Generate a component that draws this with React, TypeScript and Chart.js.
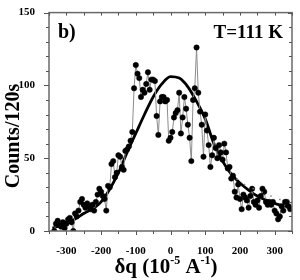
import React, { useEffect, useRef } from "react";
import { Chart, registerables } from "chart.js";

Chart.register(...registerables);

// measured data: momentum transfer (1e-5 A^-1) and counts per 120 s
const dq = [
  -335, -330, -325, -320, -315, -310, -305, -300, -295, -290, -285, -280, -275, -270, -265, -260,
  -255, -250, -245, -240, -235, -230, -225, -220, -215, -210, -205, -200, -195, -190, -185, -180,
  -175, -170, -165, -160, -155, -150, -145, -140, -135, -130, -125, -120, -115, -110, -105, -100,
  -95, -90, -85, -80, -75, -70, -65, -60, -55, -50, -45, -40, -35, -30, -25, -20,
  -15, -10, -5, 0, 5, 10, 15, 20, 25, 30, 35, 40, 45, 50, 55, 60,
  65, 70, 75, 80, 85, 90, 95, 100, 105, 110, 115, 120, 125, 130, 135, 140,
  145, 150, 155, 160, 165, 170, 175, 180, 185, 190, 195, 200, 205, 210, 215, 220,
  225, 230, 235, 240, 245, 250, 255, 260, 265, 270, 275, 280, 285, 290, 295, 300,
  305, 310, 315, 320, 325, 330, 335, 340, 345,
];
const counts = [
  0, 5, 7, 4, 3, 6, 2, 5, 8, 9, 6, 0, 12, 10, 14, 20,
  22, 18, 16, 19, 17, 15, 18, 14, 20, 25, 29, 27, 24, 22, 14, 31,
  30, 46, 48, 37, 40, 52, 51, 44, 42, 55, 56, 58, 62, 68, 98, 114,
  108, 105, 92, 97, 95, 101, 109, 97, 104, 104, 103, 79, 66, 89, 92, 92,
  89, 90, 62, 64, 68, 78, 81, 83, 95, 67, 78, 92, 84, 73, 64, 48,
  90, 98, 126, 95, 82, 73, 51, 80, 69, 59, 44, 52, 64, 57, 50, 59,
  54, 49, 60, 54, 43, 44, 36, 38, 27, 23, 32, 22, 15, 25, 23, 21,
  16, 24, 29, 20, 18, 21, 16, 24, 29, 27, 20, 18, 20, 18, 20, 14,
  12, 8, 10, 17, 14, 20, 20, 17, 15,
];

// fitted curve
const fitDq = [-340, -300, -250, -200, -150, -125, -100, -75, -50, -25, 0, 25, 50, 75, 100, 125, 150, 175, 200, 250, 300, 350];
const fitCounts = [2, 5, 12, 20, 40, 54, 67, 80, 92, 101, 106, 105, 99, 89, 77, 60, 48, 39, 33, 24, 19, 16];

// faint dotted curve on the right
const dotDq = [190, 220, 250, 280, 310, 340];
const dotCounts = [36, 31, 28, 25, 22, 21];

const xTickLabels = [-300, -200, -100, 0, 100, 200, 300];
const yTickLabels = [0, 50, 100, 150];

const SERIF = "'Liberation Serif', 'Times New Roman', serif";

const decorPlugin = {
  id: "decor",
  afterDraw(chart: any) {
    const ctx = chart.ctx;
    const { left, right, top, bottom } = chart.chartArea;
    const xs = chart.scales.x;
    const ys = chart.scales.y;
    ctx.save();
    ctx.strokeStyle = "#6a6a6a";
    ctx.lineWidth = 1.5;
    ctx.strokeRect(left, top, right - left, bottom - top);
    ctx.lineWidth = 1;
    ctx.strokeStyle = "#555";
    ctx.beginPath();
    for (let v = xs.min; v <= xs.max; v += 50) {
      const px = Math.round(xs.getPixelForValue(v)) + 0.5;
      const major = v % 100 === 0;
      ctx.moveTo(px, bottom);
      ctx.lineTo(px, bottom + (major ? 4 : 3));
      ctx.moveTo(px, top);
      ctx.lineTo(px, top + 3);
    }
    for (let v = ys.min; v <= ys.max; v += 10) {
      const py = Math.round(ys.getPixelForValue(v)) + 0.5;
      const major = v % 50 === 0;
      ctx.moveTo(left, py);
      ctx.lineTo(left - (major ? 5 : 3), py);
      ctx.moveTo(right, py);
      ctx.lineTo(right - (major ? 4 : 3), py);
    }
    ctx.stroke();

    ctx.fillStyle = "#000";
    ctx.font = `bold 20px ${SERIF}`;
    ctx.textAlign = "left";
    ctx.textBaseline = "alphabetic";
    ctx.fillText("b)", 58, 38);
    ctx.font = `bold 19px ${SERIF}`;
    ctx.textAlign = "right";
    ctx.fillText("T=111 K", 283, 38);

    // y title
    ctx.save();
    ctx.translate(19, 136);
    ctx.rotate(-Math.PI / 2);
    ctx.font = `bold 20px ${SERIF}`;
    ctx.textAlign = "center";
    ctx.textBaseline = "alphabetic";
    ctx.fillText("Counts/120s", 0, 0);
    ctx.restore();

    // x title with superscripts
    const parts: [string, boolean][] = [
      ["δq (10", false],
      ["-5", true],
      [" A", false],
      ["-1", true],
      [")", false],
    ];
    const big = `bold 21px ${SERIF}`;
    const small = `bold 12px ${SERIF}`;
    let total = 0;
    for (const [t, sup] of parts) {
      ctx.font = sup ? small : big;
      total += ctx.measureText(t).width;
    }
    let x = 166 - total / 2;
    const base = 273;
    ctx.textAlign = "left";
    for (const [t, sup] of parts) {
      ctx.font = sup ? small : big;
      ctx.fillText(t, x, sup ? base - 9 : base);
      x += ctx.measureText(t).width;
    }
    ctx.restore();
  },
};

export default function App() {
  const ref = useRef<HTMLCanvasElement>(null);
  useEffect(() => {
    if (!ref.current) return;
    const chart = new Chart(ref.current, {
      type: "line",
      data: {
        datasets: [
          {
            label: "dotted",
            data: dotDq.map((x, i) => ({ x, y: dotCounts[i] })),
            borderColor: "#8a8a8a",
            borderWidth: 1.5,
            borderDash: [1.5, 8],
            pointRadius: 0,
            tension: 0.4,
          },
          {
            label: "data",
            data: dq.map((x, i) => ({ x, y: counts[i] })),
            borderColor: "#8c8c8c",
            borderWidth: 1,
            pointRadius: 2.7,
            pointBackgroundColor: "#000",
            pointBorderColor: "#000",
            pointBorderWidth: 0.5,
            tension: 0,
          },
          {
            label: "fit",
            data: fitDq.map((x, i) => ({ x, y: fitCounts[i] })),
            borderColor: "#000",
            borderWidth: 2.8,
            pointRadius: 0,
            cubicInterpolationMode: "monotone",
          },
        ],
      },
      options: {
        responsive: false,
        animation: false,
        layout: { padding: { top: 7, right: 8, left: 0, bottom: 0 } },
        plugins: { legend: { display: false }, tooltip: { enabled: false } },
        scales: {
          x: {
            type: "linear",
            min: -350,
            max: 350,
            grid: { display: false },
            border: { display: false },
            afterFit: (s: any) => {
              s.height = 49;
            },
            afterBuildTicks: (s: any) => {
              s.ticks = xTickLabels.map((v) => ({ value: v }));
            },
            ticks: {
              padding: 6,
              maxRotation: 0,
              autoSkip: false,
              color: "#000",
              font: { family: SERIF, size: 11, weight: "bold" },
            },
          },
          y: {
            type: "linear",
            min: 0,
            max: 150,
            grid: { display: false },
            border: { display: false },
            afterFit: (s: any) => {
              s.width = 49;
            },
            afterBuildTicks: (s: any) => {
              s.ticks = yTickLabels.map((v) => ({ value: v }));
            },
            ticks: {
              padding: 6,
              autoSkip: false,
              color: "#000",
              font: { family: SERIF, size: 11, weight: "bold" },
            },
          },
        },
      },
      plugins: [decorPlugin],
    });
    return () => chart.destroy();
  }, []);
  return (
    <div style={{ position: "fixed", left: 0, top: 0, width: 300, height: 280, background: "#fff" }}>
      <canvas ref={ref} width={300} height={280} style={{ width: 300, height: 280 }} />
    </div>
  );
}
